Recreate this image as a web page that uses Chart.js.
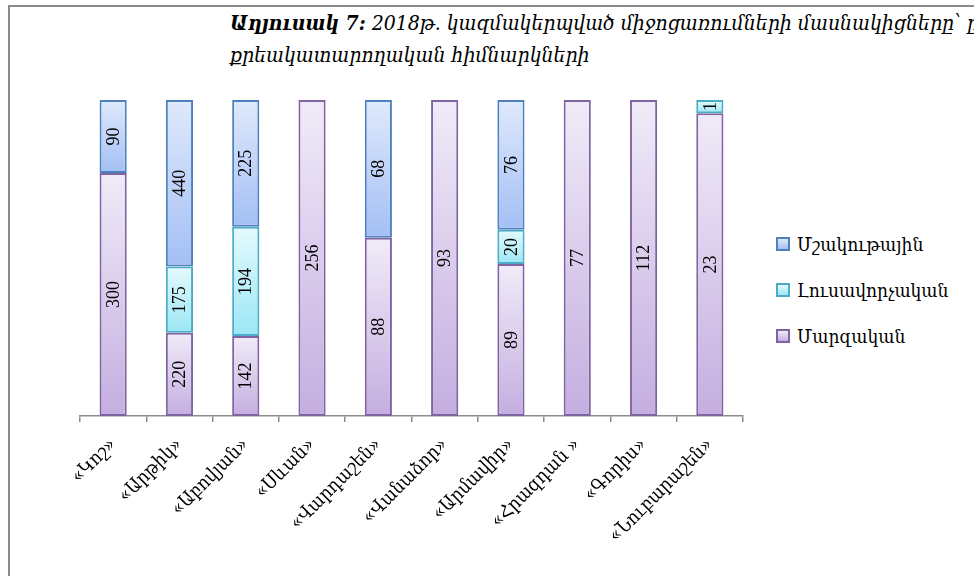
<!DOCTYPE html>
<html>
<head>
<meta charset="utf-8">
<script src="https://cdn.jsdelivr.net/npm/chart.js@4/dist/chart.umd.min.js"></script>
<style>
  html, body { margin:0; padding:0; background:#fff; overflow:hidden; }
  #wrap { position:relative; width:974px; height:576px; }
  #frame { position:absolute; left:8px; top:5px; width:1000px; height:600px; border-left:2px solid #8c8c8c; border-top:2px solid #8c8c8c; }
  #title { position:absolute; left:230px; top:7px; width:900px; font-family:"DejaVu Serif Condensed","DejaVu Serif",serif; font-style:italic; font-size:21px; line-height:32px; color:#000; white-space:nowrap; }
  #title b { font-weight:bold; }
  #legend { position:absolute; left:776px; top:221px; font-family:"DejaVu Serif Condensed","DejaVu Serif",serif; font-size:19px; color:#000; }
  #legend .item { display:flex; align-items:center; height:46px; }
  #legend .box { width:10px; height:10px; margin-right:7px; border:2px solid; }
  canvas { position:absolute; left:0; top:0; }
</style>
</head>
<body>
<div id="wrap">
  <div id="frame"></div>
  <div id="title"><b>Աղյուսակ 7:</b> 2018թ. կազմակերպված միջոցառումների մասնակիցները՝ ըստ<br>քրեակատարողական հիմնարկների</div>
  <div id="legend"></div>
  <canvas id="chart" width="974" height="576"></canvas>
</div>
<script>
// prisons, left to right
const categories = ['«Կոշ»', '«Արթիկ»', '«Աբովյան»', '«Սևան»', '«Վարդաշեն»', '«Վանաձոր»', '«Արմավիր»', '«Հրազդան »', '«Գորիս»', '«Նուբարաշեն»'];
const seriesNames = ['Մարզական', 'Լուսավորչական', 'Մշակութային'];
const sportValues = [300, 220, 142, 256, 88, 93, 89, 77, 112, 23];
const educationValues = [0, 175, 194, 0, 0, 0, 20, 0, 0, 1];
const cultureValues = [90, 440, 225, 0, 68, 0, 76, 0, 0, 0];

const rawSeries = [sportValues, educationValues, cultureValues];
const palette = [
  { top: '#f0ebf8', bottom: '#c4aee0', border: '#8064a2' },
  { top: '#e4fafe', bottom: '#9ce6f5', border: '#4bacc6' },
  { top: '#dfe9fc', bottom: '#a3bff4', border: '#4f81bd' }
];

const totals = categories.map((_, i) => rawSeries.reduce((s, arr) => s + arr[i], 0));
const percentSeries = rawSeries.map(arr => arr.map((v, i) => v > 0 ? v / totals[i] * 100 : null));

function gradientFor(ctx) {
  const chart = ctx.chart;
  const ds = ctx.datasetIndex, i = ctx.dataIndex;
  const p = palette[ds];
  const y = chart.scales && chart.scales.y;
  if (i === undefined || !y || !chart.chartArea) return p.bottom;
  let base = 0;
  for (let k = 0; k < ds; k++) base += percentSeries[k][i] || 0;
  const top = base + (percentSeries[ds][i] || 0);
  const y0 = y.getPixelForValue(top), y1 = y.getPixelForValue(base);
  if (!isFinite(y0) || !isFinite(y1) || y0 === y1) return p.bottom;
  const g = chart.ctx.createLinearGradient(0, y0, 0, y1);
  g.addColorStop(0, p.top);
  g.addColorStop(1, p.bottom);
  return g;
}

const valueLabels = {
  id: 'valueLabels',
  afterDatasetsDraw(chart) {
    const c = chart.ctx;
    c.save();
    c.font = '18px "Liberation Serif", serif';
    c.fillStyle = '#000';
    c.textAlign = 'center';
    c.textBaseline = 'middle';
    chart.data.datasets.forEach((d, ds) => {
      chart.getDatasetMeta(ds).data.forEach((el, i) => {
        const v = rawSeries[ds][i];
        if (!v) return;
        c.save();
        c.translate(el.x, (el.y + el.base) / 2);
        c.rotate(-Math.PI / 2);
        c.fillText(String(v), 0, 1);
        c.restore();
      });
    });
    c.restore();
  }
};

new Chart(document.getElementById('chart'), {
  type: 'bar',
  data: {
    labels: categories,
    datasets: seriesNames.map((name, ds) => ({
      label: name,
      data: percentSeries[ds],
      backgroundColor: gradientFor,
      borderColor: palette[ds].border,
      borderWidth: 2,
      borderSkipped: false,
      categoryPercentage: 1,
      barPercentage: 0.41
    }))
  },
  options: {
    responsive: false,
    animation: false,
    layout: { padding: { left: 80, right: 231, top: 100, bottom: 0 } },
    plugins: { legend: { display: false }, tooltip: { enabled: false } },
    scales: {
      x: {
        stacked: true,
        afterFit(scale) { scale.height = 160; },
        border: { display: true, color: '#8c8c8c', width: 1.5 },
        grid: { offset: true, drawOnChartArea: false, drawTicks: true, tickLength: 6, color: '#8c8c8c', lineWidth: 1.5 },
        ticks: {
          minRotation: 45, maxRotation: 45, padding: 12,
          color: '#000',
          font: { family: '"DejaVu Serif Condensed","DejaVu Serif",serif', size: 19 }
        }
      },
      y: { stacked: true, display: false, min: 0, max: 100 }
    }
  },
  plugins: [valueLabels]
});

// legend, top entry is the top series
const legend = document.getElementById('legend');
for (let ds = seriesNames.length - 1; ds >= 0; ds--) {
  const item = document.createElement('div');
  item.className = 'item';
  const box = document.createElement('span');
  box.className = 'box';
  box.style.borderColor = palette[ds].border;
  box.style.background = `linear-gradient(${palette[ds].top}, ${palette[ds].bottom})`;
  const txt = document.createElement('span');
  txt.textContent = seriesNames[ds];
  item.appendChild(box);
  item.appendChild(txt);
  legend.appendChild(item);
}
</script>
</body>
</html>
